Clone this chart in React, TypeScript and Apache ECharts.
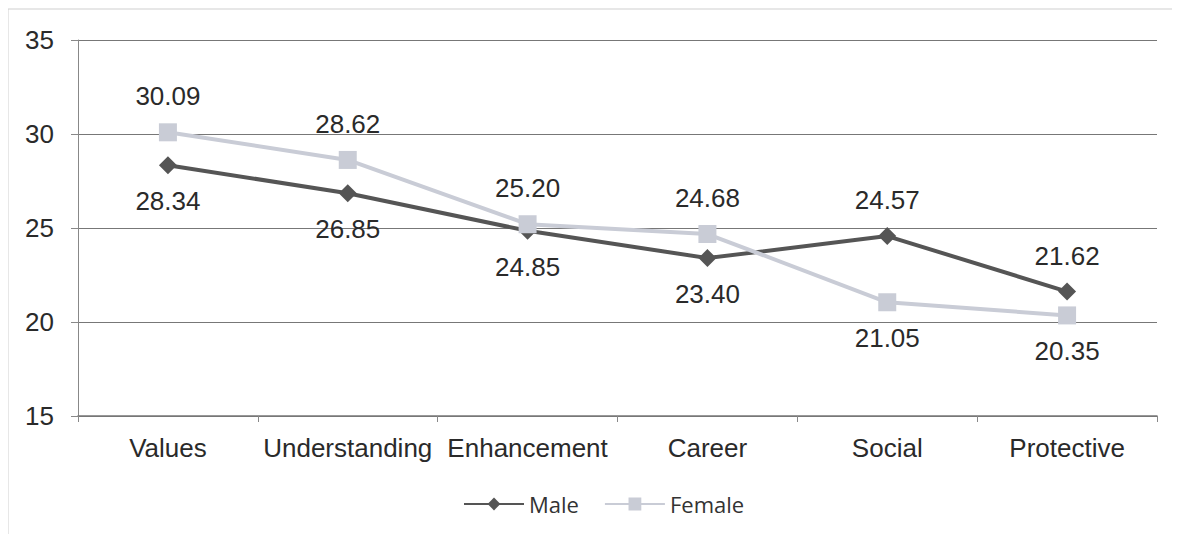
import React, { useEffect, useRef } from "react";
import * as echarts from "echarts";

const categories = ["Values", "Understanding", "Enhancement", "Career", "Social", "Protective"];
const maleValues = [28.34, 26.85, 24.85, 23.4, 24.57, 21.62];
const femaleValues = [30.09, 28.62, 25.2, 24.68, 21.05, 20.35];
const maleLabelPos = ["bottom", "bottom", "bottom", "bottom", "top", "top"];
const femaleLabelPos = ["top", "top", "top", "top", "bottom", "bottom"];

export default function App() {
  const ref = useRef<HTMLDivElement>(null);
  useEffect(() => {
    const chart = echarts.init(ref.current!, null, { renderer: "svg" });
    const font = "'Liberation Sans', Arial, sans-serif";
    chart.setOption({
      animation: false,
      backgroundColor: "#ffffff",
      graphic: [
        {
          type: "rect",
          shape: { x: 0, y: 1, width: 1200, height: 560 },
          style: { fill: "none", stroke: "#cfcfcf", lineWidth: 1 },
          silent: true,
        },
      ],
      grid: { left: 70, right: 15, top: 32, bottom: 118 },
      xAxis: {
        type: "category",
        data: categories,
        boundaryGap: true,
        axisLine: { lineStyle: { color: "#777", width: 1.5 } },
        axisTick: { show: true, length: 6, lineStyle: { color: "#888" } },
        axisLabel: { color: "#2a2a2a", fontSize: 26, fontFamily: font, margin: 19, interval: 0, hideOverlap: false },
      },
      yAxis: {
        type: "value",
        min: 15,
        max: 35,
        interval: 5,
        axisLine: { show: true, lineStyle: { color: "#888", width: 1 } },
        axisTick: { show: true, length: 7, lineStyle: { color: "#888" } },
        axisLabel: { color: "#2a2a2a", fontSize: 26, fontFamily: font, margin: 24 },
        splitLine: { lineStyle: { color: "#777", width: 1.2 } },
      },
      legend: {
        bottom: 14,
        left: 450,
        itemWidth: 60,
        itemHeight: 16,
        itemGap: 25,
        textStyle: { fontSize: 22, color: "#333", fontFamily: "'Open Sans', sans-serif" },
        data: ["Male", "Female"],
      },
      series: [
        {
          name: "Male",
          type: "line",
          data: maleValues.map((v, i) => ({ value: v, label: { position: maleLabelPos[i] } })),
          symbol: "diamond",
          symbolSize: 18,
          lineStyle: { color: "#555", width: 4 },
          itemStyle: { color: "#555" },
          label: {
            show: true,
            formatter: (p: any) => p.value.toFixed(2),
            fontSize: 26,
            fontFamily: font,
            color: "#2a2a2a",
            distance: 14,
          },
          z: 3,
        },
        {
          name: "Female",
          type: "line",
          data: femaleValues.map((v, i) => ({ value: v, label: { position: femaleLabelPos[i] } })),
          symbol: "rect",
          symbolSize: 18,
          lineStyle: { color: "#c9ccd6", width: 4 },
          itemStyle: { color: "#c9ccd6" },
          label: {
            show: true,
            formatter: (p: any) => p.value.toFixed(2),
            fontSize: 26,
            fontFamily: font,
            color: "#2a2a2a",
            distance: 14,
          },
          z: 4,
        },
      ],
    });
    return () => chart.dispose();
  }, []);
  return <div ref={ref} style={{ width: 1164, height: 526 }} />;
}
